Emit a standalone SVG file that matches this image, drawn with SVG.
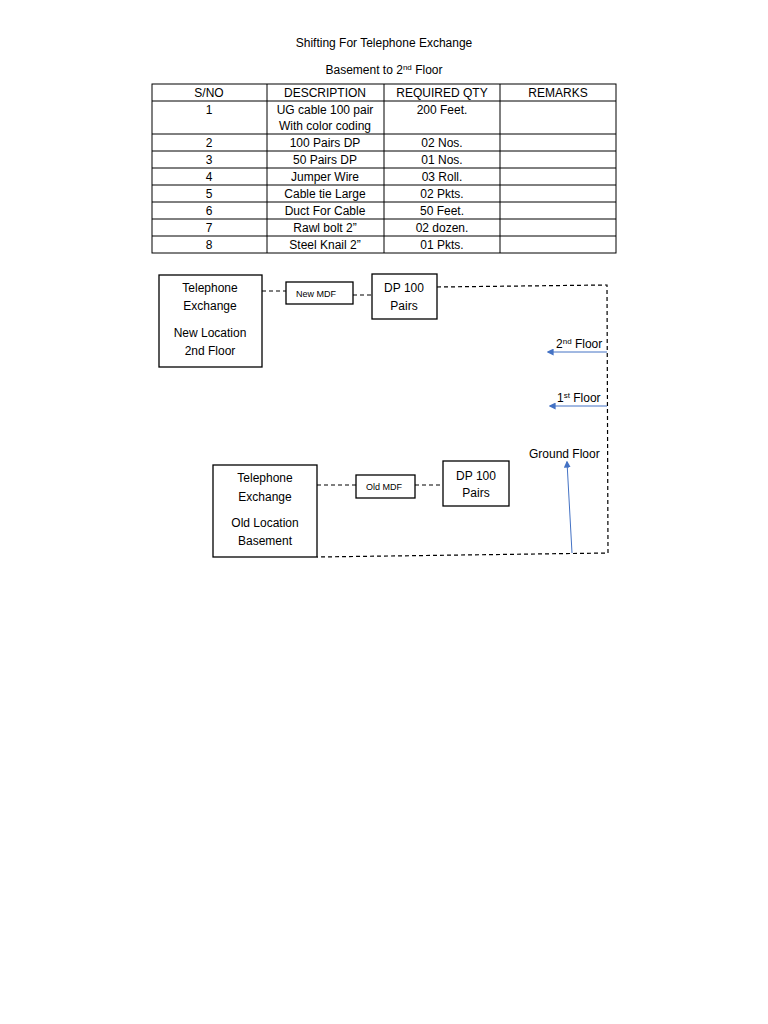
<svg xmlns="http://www.w3.org/2000/svg" width="768" height="1024" viewBox="0 0 768 1024">
<defs>
<style>
text{font-family:"Liberation Sans",Arial,sans-serif;font-size:12px;fill:#000}
.c{text-anchor:middle}
.s{font-size:8px}
.sm{font-size:9px}
.b{fill:#fff;stroke:#000;stroke-width:1.3}
.t{stroke:#000;stroke-width:1;fill:none}
.d{stroke:#000;stroke-width:1.2;fill:none;stroke-dasharray:4,3}
.bl{stroke:#4472C4;stroke-width:1;fill:none}
</style>
<marker id="a" viewBox="0 0 10 10" refX="8" refY="5" markerWidth="7" markerHeight="7" orient="auto"><path d="M0,0L10,5L0,10z" fill="#4472C4"/></marker>
</defs>
<rect width="768" height="1024" fill="#fff"/>
<text x="384" y="47" class="c">Shifting For Telephone Exchange</text>
<text x="384" y="74" class="c">Basement to 2<tspan class="s" dy="-4">nd</tspan><tspan dy="4"> Floor</tspan></text>
<g id="table">
<rect x="152" y="84" width="464" height="169" class="t"/>
<path class="t" d="M267,84V253M384,84V253M500,84V253M152,101H616M152,134H616M152,151H616M152,168H616M152,185H616M152,202H616M152,219H616M152,236H616"/>
<g class="c">
<text x="209" y="97" class="c">S/NO</text><text x="325" y="97" class="c">DESCRIPTION</text><text x="442" y="97" class="c">REQUIRED QTY</text><text x="558" y="97" class="c">REMARKS</text>
<text x="209" y="114" class="c">1</text><text x="325" y="114" class="c">UG cable 100 pair</text><text x="325" y="130" class="c">With color coding</text><text x="442" y="114" class="c">200 Feet.</text>
<text x="209" y="147" class="c">2</text><text x="325" y="147" class="c">100 Pairs DP</text><text x="442" y="147" class="c">02 Nos.</text>
<text x="209" y="164" class="c">3</text><text x="325" y="164" class="c">50 Pairs DP</text><text x="442" y="164" class="c">01 Nos.</text>
<text x="209" y="181" class="c">4</text><text x="325" y="181" class="c">Jumper Wire</text><text x="442" y="181" class="c">03 Roll.</text>
<text x="209" y="198" class="c">5</text><text x="325" y="198" class="c">Cable tie Large</text><text x="442" y="198" class="c">02 Pkts.</text>
<text x="209" y="215" class="c">6</text><text x="325" y="215" class="c">Duct For Cable</text><text x="442" y="215" class="c">50 Feet.</text>
<text x="209" y="232" class="c">7</text><text x="325" y="232" class="c">Rawl bolt 2”</text><text x="442" y="232" class="c">02 dozen.</text>
<text x="209" y="249" class="c">8</text><text x="325" y="249" class="c">Steel Knail 2”</text><text x="442" y="249" class="c">01 Pkts.</text>
</g>
</g>
<g id="connectors">
<path class="d" d="M262,291H286M353,295H372M437,287L607,285L608,553L317,557M317,485H356M415,485H443"/>
<path class="bl" d="M607,352H548" marker-end="url(#a)"/>
<path class="bl" d="M607,406H550" marker-end="url(#a)"/>
<path class="bl" d="M572,553L567,462" marker-end="url(#a)"/>
</g>
<g id="new-te"><rect x="159" y="275" width="103" height="92" class="b"/>
<text x="210" y="292" class="c">Telephone</text><text x="210" y="310" class="c">Exchange</text><text x="210" y="337" class="c">New Location</text><text x="210" y="355" class="c">2nd Floor</text></g>
<g id="new-mdf"><rect x="286" y="282" width="67" height="22" class="b"/><text x="316" y="297" class="c sm">New MDF</text></g>
<g id="dp-new"><rect x="372" y="274" width="65" height="45" class="b"/><text x="404" y="292" class="c">DP 100</text><text x="404" y="310" class="c">Pairs</text></g>
<g id="old-te"><rect x="213" y="465" width="104" height="92" class="b"/>
<text x="265" y="482" class="c">Telephone</text><text x="265" y="501" class="c">Exchange</text><text x="265" y="527" class="c">Old Location</text><text x="265" y="545" class="c">Basement</text></g>
<g id="old-mdf"><rect x="356" y="475" width="59" height="23" class="b"/><text x="384" y="490" class="c sm">Old MDF</text></g>
<g id="dp-old"><rect x="443" y="461" width="66" height="45" class="b"/><text x="476" y="480" class="c">DP 100</text><text x="476" y="497" class="c">Pairs</text></g>
<g id="labels">
<text x="556" y="348">2<tspan class="s" dy="-4">nd</tspan><tspan dy="4"> Floor</tspan></text>
<text x="557" y="402">1<tspan class="s" dy="-4">st</tspan><tspan dy="4"> Floor</tspan></text>
<text x="529" y="458">Ground Floor</text>
</g>
</svg>
